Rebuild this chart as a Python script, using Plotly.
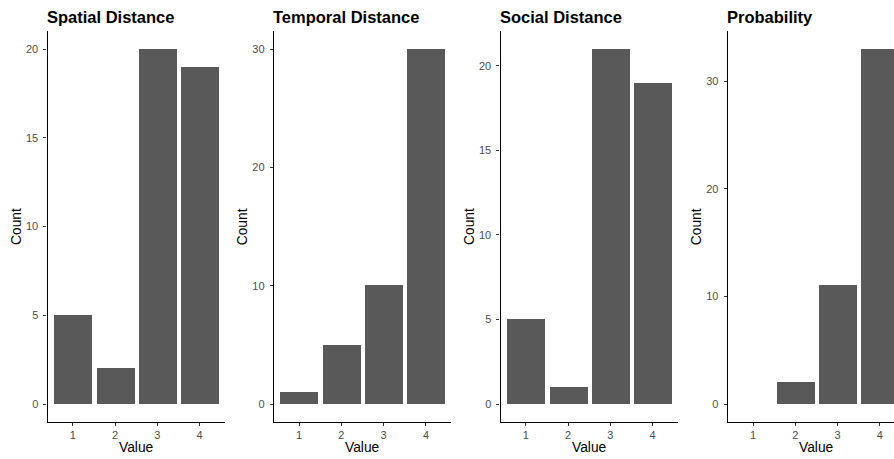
import plotly.graph_objects as go

titles = ["Spatial Distance", "Temporal Distance", "Social Distance", "Probability"]
categories = [1, 2, 3, 4]
spatial = [5, 2, 20, 19]
temporal = [1, 5, 10, 30]
social = [5, 1, 21, 19]
probability = [0, 2, 11, 33]
series = [spatial, temporal, social, probability]
ytick_vals = [[0, 5, 10, 15, 20], [0, 10, 20, 30], [0, 5, 10, 15, 20], [0, 10, 20, 30]]

W, H = 894, 459
BAR = "#595959"
FONT = "Liberation Sans, Arial, sans-serif"

fig = go.Figure()
panel_left = [47.5, 273.8, 500.5, 727.7]
panel_w = 177.5
ybot, ytop = 421.75, 31.25

for i, (title, vals) in enumerate(zip(titles, series)):
    n = i + 1
    xs = "x" if n == 1 else f"x{n}"
    ys = "y" if n == 1 else f"y{n}"
    fig.add_trace(go.Bar(x=categories, y=vals, width=0.9, marker=dict(color=BAR, line=dict(width=0)),
                         xaxis=xs, yaxis=ys, showlegend=False))
    x0 = panel_left[i]
    x1 = x0 + panel_w
    xr = [0.4, 4.6]
    if x1 > W:
        xr = [0.4, 0.4 + 4.2 * (W - x0) / panel_w]
        x1 = W
    ymax = max(vals)
    yr = [-0.05 * ymax, ymax * 1.05]
    axcommon = dict(showline=True, linecolor="black", linewidth=1.1, ticks="outside", ticklen=3,
                    tickcolor="#333333", tickwidth=1, showgrid=False, zeroline=False,
                    tickfont=dict(family=FONT, size=11, color="#4d4d4d"))
    fig.update_layout(**{
        ("xaxis" if n == 1 else f"xaxis{n}"): dict(domain=[x0 / W, x1 / W], range=xr, anchor=ys,
                                                    tickvals=categories, ticklabelstandoff=0, **axcommon),
        ("yaxis" if n == 1 else f"yaxis{n}"): dict(domain=[1 - ybot / H, 1 - ytop / H], range=yr, anchor=xs,
                                                    tickvals=ytick_vals[i], ticklabelstandoff=3, **axcommon),
    })
    fig.add_annotation(text=f"<b>{title}</b>", xref="paper", yref="paper", x=(x0 - 3) / W, y=1 - 17 / H,
                       xanchor="left", yanchor="middle", showarrow=False,
                       font=dict(family=FONT, size=16.5, color="black"))
    fig.add_annotation(text="Value", xref="paper", yref="paper", x=(x0 + panel_w / 2) / W, y=1 - 447 / H,
                       xanchor="center", yanchor="middle", showarrow=False,
                       font=dict(family=FONT, size=13.8, color="black"))
    fig.add_annotation(text="Count", xref="paper", yref="paper", x=(x0 - 31) / W, y=1 - 226.5 / H,
                       xanchor="center", yanchor="middle", textangle=-90, showarrow=False,
                       font=dict(family=FONT, size=13.8, color="black"))

fig.update_layout(width=W, height=H, margin=dict(l=0, r=0, t=0, b=0), plot_bgcolor="white",
                  paper_bgcolor="white", bargap=0)
fig.write_html("out.html")
